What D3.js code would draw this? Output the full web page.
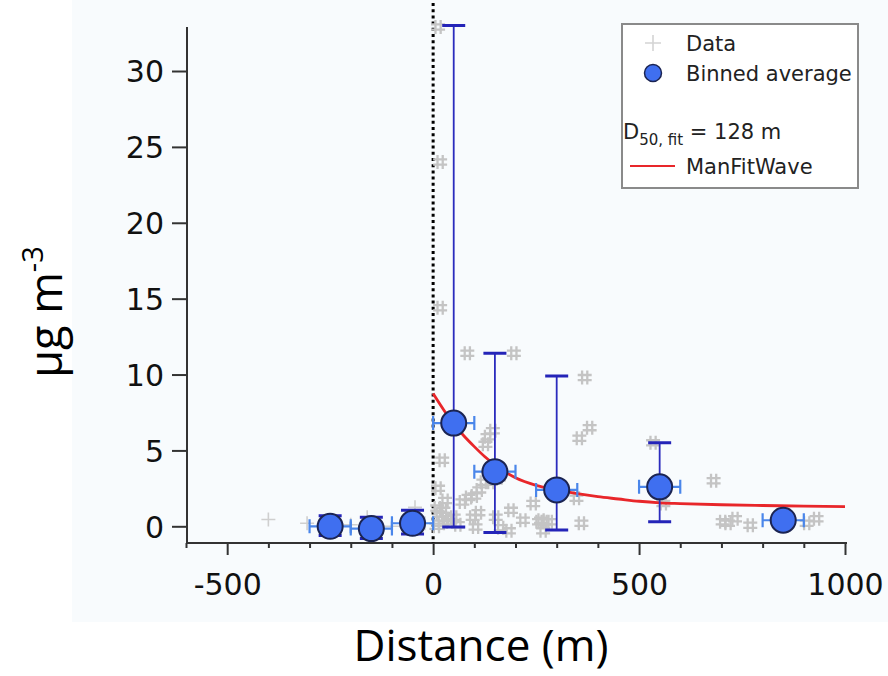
<!DOCTYPE html>
<html><head><meta charset="utf-8">
<script src="https://cdn.jsdelivr.net/npm/d3@7"></script>
<style>body{margin:0;background:#fff}svg{display:block}</style>
</head><body>
<script>
// ---- data ----
const dataX = [12,17,17,83,196,22,145,132,127,122,112,100,86,71,29,12,25,30,40,50,60,96,110,103,152,164,184,189,218,243,257,274,267,368,380,355,348,262,282,360,534,559,681,703,716,733,770,907,931,10,15,20,8,160,140];
const dataY = [32.9,24,14.4,11.4,11.4,4.35,6.3,5.9,5.4,2.9,2.4,2.0,1.9,1.6,1.7,2.5,1.05,0.5,0.3,0.6,0.1,0.6,0.9,-0.05,0.6,-0.1,-0.3,1.05,0.4,1.5,0.3,0.3,-0.3,9.8,6.5,5.8,1.85,0.4,0.3,0.2,5.5,1.5,3.0,0.3,0.2,0.5,0.07,0.2,0.5,1.2,0.8,0.2,0.0,3.2,2.9];
const plusX = [-400,-306,-250,-200,-160,-100,-44,-20];
const plusY = [0.45,0.2,0.1,0.1,0.6,0.0,1.25,0.2];
const binX  = [-250,-150,-50,50,150,300,550,850];
const binY  = [0.0,-0.15,0.2,6.8,3.6,2.4,2.6,0.4];
const binLo = [-0.6,-0.8,-0.5,-0.05,-0.4,-0.25,0.3,0.4];
const binHi = [0.7,0.6,1.05,33.0,11.4,9.9,5.5,0.4];
const binXErr = [50,50,50,50,50,50,50,50];
const fitX = [0,25,50,75,100,125,150,200,250,300,350,400,450,500,550,600,700,800,900,1000];
const fitY = [8.75,7.7,6.75,5.95,5.25,4.6,4.05,3.2,2.7,2.4,2.15,1.95,1.8,1.65,1.55,1.5,1.42,1.37,1.33,1.3];
const yTicks = [0,5,10,15,20,25,30];
const xMajor = [-500,0,500,1000];
const xMinor = [-600,-400,-300,-200,-100,100,200,300,400,600,700,800,900];

const W=888,H=676;
const svg=d3.select("body").append("svg").attr("width",W).attr("height",H);
svg.append("rect").attr("x",72).attr("y",0).attr("width",W-72).attr("height",622).attr("fill","#f8fbfd");

const x=d3.scaleLinear().domain([-600,1000]).range([186,845]);
const y=d3.scaleLinear().domain([-1.1,32.9]).range([543,27]);

const axisColor="#333";
const fmt=d=>String(d);
const yAx=svg.append("g").attr("transform","translate(187,0)")
  .call(d3.axisLeft(y).tickValues(yTicks).tickSize(15).tickPadding(8).tickFormat(fmt));
yAx.select(".domain").attr("d",`M0,${y(32.9)}V${y(-1.1)}`);
const xAx=svg.append("g").attr("transform","translate(0,543)")
  .call(d3.axisBottom(x).tickValues(xMajor).tickSize(12).tickPadding(19).tickFormat(fmt));
xAx.select(".domain").attr("d",`M186,0H847`);
svg.append("g").attr("transform","translate(0,543)")
  .call(d3.axisBottom(x).tickValues(xMinor).tickSize(5).tickFormat(""))
  .select(".domain").remove();
svg.selectAll(".domain").attr("stroke",axisColor).attr("stroke-width",2);
svg.selectAll(".tick line").attr("stroke",axisColor).attr("stroke-width",2);
svg.selectAll(".tick text").attr("font-family","'DejaVu Sans',sans-serif").attr("font-size",30).attr("fill","#111");
yAx.selectAll(".tick text").attr("dy","0.36em");

// dotted zero line
svg.append("line").attr("x1",x(0)).attr("x2",x(0)).attr("y1",3).attr("y2",543)
  .attr("stroke","#000").attr("stroke-width",3).attr("stroke-dasharray","3,3.2");

// data hash markers
const hashPath=(cx,cy)=>{const s=7,g=2.6;return `M${cx-g},${cy-s}V${cy+s}M${cx+g},${cy-s}V${cy+s}M${cx-s},${cy-g}H${cx+s}M${cx-s},${cy+g}H${cx+s}`;};
svg.append("g").selectAll("path").data(dataX).join("path")
  .attr("d",(d,i)=>hashPath(x(d),y(dataY[i])))
  .attr("stroke","#c4c4c4").attr("stroke-width",2.3).attr("fill","none");
svg.append("g").selectAll("path").data(plusX).join("path")
  .attr("d",(d,i)=>{const cx=x(d),cy=y(plusY[i]);return `M${cx-7},${cy}H${cx+7}M${cx},${cy-7}V${cy+7}`;})
  .attr("stroke","#cfcfcf").attr("stroke-width",1.6).attr("fill","none");

// fit curve
svg.append("path").datum(fitX.map((d,i)=>[d,fitY[i]]))
  .attr("d",d3.line().x(d=>x(d[0])).y(d=>y(d[1])).curve(d3.curveMonotoneX))
  .attr("fill","none").attr("stroke","#e8262a").attr("stroke-width",2.8);

// error bars
const eb=svg.append("g");
binX.forEach((bx,i)=>{
  const cx=x(bx),cy=y(binY[i]);
  const xl=x(bx-binXErr[i]),xr=x(bx+binXErr[i]);
  eb.append("path").attr("d",`M${xl},${cy}H${xr}M${xl},${cy-7}V${cy+7}M${xr},${cy-7}V${cy+7}`)
    .attr("stroke","#4a86ea").attr("stroke-width",2.2).attr("fill","none");
  const yl=y(binLo[i]),yh=y(binHi[i]);
  if(binHi[i]!==binLo[i]){
    eb.append("path").attr("d",`M${cx},${yl}V${yh}`).attr("stroke","#2b2bbd").attr("stroke-width",1.8);
    eb.append("path").attr("d",`M${cx-11.5},${yh}H${cx+11.5}M${cx-11.5},${yl}H${cx+11.5}`).attr("stroke","#2424b8").attr("stroke-width",3);
  }
});
svg.append("g").selectAll("circle").data(binX).join("circle")
  .attr("cx",d=>x(d)).attr("cy",(d,i)=>y(binY[i])).attr("r",12.5)
  .attr("fill","#3f6ff0").attr("stroke","#1b2452").attr("stroke-width",2);

// legend
const lg=svg.append("g").attr("font-family","'DejaVu Sans',sans-serif").attr("font-size",21).attr("fill","#222");
lg.append("rect").attr("x",622).attr("y",24).attr("width",236).attr("height",164).attr("fill","#fff").attr("stroke","#8a8a8a").attr("stroke-width",2);
lg.append("path").attr("d","M645,43H661M653,35V51").attr("stroke","#d4d4d4").attr("stroke-width",1.6);
lg.append("text").attr("x",686).attr("y",51).text("Data");
lg.append("circle").attr("cx",653).attr("cy",73).attr("r",8.5).attr("fill","#3f6ff0").attr("stroke","#1b2452").attr("stroke-width",1.5);
lg.append("text").attr("x",686).attr("y",81).text("Binned average");
const t3=lg.append("text").attr("x",623).attr("y",139);
t3.append("tspan").text("D");
t3.append("tspan").attr("font-size",15).attr("dy",6).text("50, fit");
t3.append("tspan").attr("dy",-6).text(" = 128 m");
lg.append("path").attr("d","M630,166H675").attr("stroke","#e8262a").attr("stroke-width",2.2);
lg.append("text").attr("x",686).attr("y",174).text("ManFitWave");

// axis titles
svg.append("text").attr("x",481).attr("y",661).attr("text-anchor","middle")
  .attr("font-family","'Open Sans',sans-serif").attr("font-size",44).attr("fill","#000").text("Distance (m)");
const ylab=svg.append("text").attr("transform","translate(62,312) rotate(-90)").attr("text-anchor","middle")
  .attr("font-family","'Open Sans',sans-serif").attr("font-size",45).attr("fill","#000");
ylab.append("tspan").text("μg m");
ylab.append("tspan").attr("font-size",29).attr("dy",-19).text("-3");
</script>
</body></html>
